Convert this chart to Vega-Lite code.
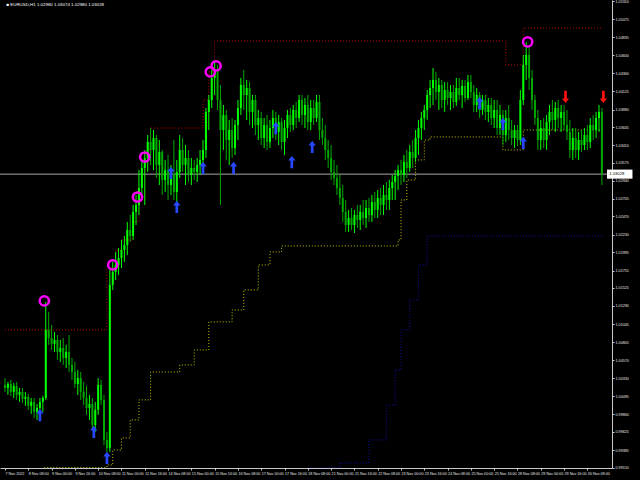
{
  "$schema": "https://vega.github.io/schema/vega-lite/v6.json",
  "width": 612,
  "height": 468,
  "autosize": "none",
  "padding": {"left": 0, "top": 0, "right": 28, "bottom": 12},
  "background": "black",
  "config": {
    "view": {"stroke": null},
    "font": "Liberation Sans",
    "axis": {"grid": false, "domainColor": "#C8C8C8", "tickColor": "#C8C8C8", "labelColor": "#E8E8E8", "labelFont": "Liberation Sans", "labelFontSize": 3.7, "tickSize": 2, "labelPadding": 1, "labelOverlap": false, "labelFlush": false, "tickCount": 100}
  },
  "datasets": {
    "candles": [
      {"i":0,"o":1.00245,"h":1.00337,"l":1.00153,"c":1.00205},
      {"i":2,"o":1.00205,"h":1.00285,"l":1.00113,"c":1.00258},
      {"i":4,"o":1.00258,"h":1.00311,"l":1.001,"c":1.00153},
      {"i":6,"o":1.00153,"h":1.00271,"l":1.00073,"c":1.00232},
      {"i":8,"o":1.00232,"h":1.00285,"l":1.00047,"c":1.00113},
      {"i":10,"o":1.00113,"h":1.00205,"l":1.00021,"c":1.00153},
      {"i":12,"o":1.00153,"h":1.00205,"l":1.00007,"c":1.0006},
      {"i":14,"o":1.0006,"h":1.00153,"l":0.99968,"c":1.00087},
      {"i":16,"o":1.00087,"h":1.00126,"l":0.99915,"c":0.99968},
      {"i":18,"o":0.99968,"h":1.00073,"l":0.99862,"c":1.00021},
      {"i":20,"o":1.00021,"h":1.00073,"l":0.99809,"c":0.99889},
      {"i":22,"o":0.99889,"h":0.99994,"l":0.99783,"c":0.99941},
      {"i":24,"o":0.99941,"h":1.00073,"l":0.99783,"c":1.00021},
      {"i":26,"o":1.00021,"h":1.001,"l":0.99889,"c":1.00073},
      {"i":28,"o":1.00073,"h":1.01341,"l":1.00047,"c":1.00971},
      {"i":30,"o":1.00971,"h":1.01209,"l":1.00773,"c":1.00865},
      {"i":32,"o":1.00865,"h":1.01037,"l":1.00707,"c":1.00786},
      {"i":34,"o":1.00786,"h":1.00945,"l":1.00681,"c":1.00839},
      {"i":36,"o":1.00839,"h":1.00905,"l":1.00575,"c":1.00681},
      {"i":38,"o":1.00681,"h":1.00839,"l":1.00549,"c":1.00733},
      {"i":40,"o":1.00733,"h":1.00865,"l":1.00509,"c":1.00601},
      {"i":42,"o":1.00601,"h":1.00773,"l":1.00469,"c":1.00681},
      {"i":44,"o":1.00681,"h":1.00905,"l":1.00417,"c":1.00509},
      {"i":46,"o":1.00509,"h":1.00601,"l":1.00311,"c":1.00417},
      {"i":48,"o":1.00417,"h":1.00549,"l":1.00205,"c":1.00258},
      {"i":50,"o":1.00258,"h":1.00443,"l":1.00113,"c":1.00337},
      {"i":52,"o":1.00337,"h":1.00417,"l":1.00047,"c":1.00153},
      {"i":54,"o":1.00153,"h":1.00285,"l":0.99981,"c":1.00073},
      {"i":56,"o":1.00073,"h":1.00232,"l":0.99849,"c":0.99941},
      {"i":58,"o":0.99941,"h":1.00113,"l":0.99783,"c":0.99994},
      {"i":60,"o":0.99994,"h":1.00073,"l":0.99651,"c":0.99717},
      {"i":62,"o":0.99717,"h":1.00021,"l":0.99625,"c":0.99915},
      {"i":64,"o":0.99915,"h":1.00337,"l":0.99849,"c":1.00245},
      {"i":66,"o":1.00245,"h":1.00311,"l":0.99981,"c":1.00047},
      {"i":68,"o":1.00047,"h":1.00113,"l":0.99453,"c":0.99519},
      {"i":70,"o":0.99519,"h":0.99625,"l":0.99321,"c":0.99413},
      {"i":72,"o":0.99413,"h":1.01763,"l":0.99361,"c":1.01565},
      {"i":74,"o":1.01565,"h":1.01869,"l":1.01499,"c":1.01737},
      {"i":76,"o":1.01737,"h":1.02001,"l":1.01631,"c":1.01829},
      {"i":78,"o":1.01829,"h":1.02053,"l":1.01697,"c":1.01921},
      {"i":80,"o":1.01921,"h":1.02159,"l":1.01789,"c":1.02027},
      {"i":82,"o":1.02027,"h":1.02212,"l":1.01869,"c":1.02093},
      {"i":84,"o":1.02093,"h":1.02397,"l":1.01961,"c":1.02291},
      {"i":86,"o":1.02291,"h":1.02489,"l":1.02133,"c":1.02212},
      {"i":88,"o":1.02212,"h":1.02621,"l":1.02159,"c":1.02529},
      {"i":90,"o":1.02529,"h":1.02753,"l":1.02357,"c":1.02621},
      {"i":92,"o":1.02621,"h":1.03083,"l":1.02489,"c":1.02845},
      {"i":94,"o":1.02845,"h":1.03215,"l":1.02687,"c":1.03109},
      {"i":96,"o":1.03109,"h":1.03347,"l":1.02621,"c":1.03241},
      {"i":98,"o":1.03241,"h":1.03545,"l":1.03057,"c":1.03453},
      {"i":100,"o":1.03453,"h":1.03637,"l":1.03149,"c":1.03347},
      {"i":102,"o":1.03347,"h":1.03611,"l":1.03083,"c":1.03505},
      {"i":104,"o":1.03505,"h":1.03545,"l":1.02977,"c":1.03149},
      {"i":106,"o":1.03149,"h":1.03479,"l":1.02885,"c":1.03321},
      {"i":108,"o":1.03321,"h":1.03347,"l":1.02753,"c":1.02951},
      {"i":110,"o":1.02951,"h":1.03215,"l":1.02793,"c":1.03083},
      {"i":112,"o":1.03083,"h":1.03281,"l":1.02687,"c":1.02885},
      {"i":114,"o":1.02885,"h":1.03149,"l":1.02753,"c":1.03017},
      {"i":116,"o":1.03017,"h":1.03479,"l":1.02687,"c":1.02793},
      {"i":118,"o":1.02793,"h":1.03215,"l":1.02621,"c":1.03057},
      {"i":120,"o":1.03057,"h":1.03545,"l":1.02977,"c":1.03347},
      {"i":122,"o":1.03347,"h":1.03505,"l":1.03057,"c":1.03149},
      {"i":124,"o":1.03149,"h":1.03413,"l":1.02885,"c":1.03241},
      {"i":126,"o":1.03241,"h":1.03347,"l":1.02925,"c":1.03017},
      {"i":128,"o":1.03017,"h":1.03241,"l":1.02885,"c":1.03109},
      {"i":130,"o":1.03109,"h":1.03215,"l":1.02951,"c":1.03057},
      {"i":132,"o":1.03057,"h":1.03241,"l":1.02925,"c":1.03149},
      {"i":134,"o":1.03149,"h":1.03347,"l":1.03017,"c":1.03215},
      {"i":136,"o":1.03215,"h":1.03479,"l":1.03057,"c":1.03347},
      {"i":138,"o":1.03347,"h":1.03901,"l":1.03241,"c":1.03849},
      {"i":140,"o":1.03849,"h":1.04073,"l":1.03611,"c":1.04007},
      {"i":142,"o":1.04007,"h":1.04403,"l":1.03901,"c":1.04297},
      {"i":144,"o":1.04297,"h":1.04509,"l":1.04073,"c":1.04403},
      {"i":146,"o":1.04403,"h":1.04469,"l":1.03875,"c":1.04007},
      {"i":148,"o":1.04007,"h":1.04205,"l":1.02621,"c":1.03611},
      {"i":150,"o":1.03611,"h":1.03941,"l":1.03347,"c":1.03809},
      {"i":152,"o":1.03809,"h":1.03875,"l":1.03215,"c":1.03479},
      {"i":154,"o":1.03479,"h":1.03743,"l":1.03149,"c":1.03611},
      {"i":156,"o":1.03611,"h":1.03769,"l":1.03241,"c":1.03373},
      {"i":158,"o":1.03373,"h":1.03743,"l":1.03281,"c":1.03677},
      {"i":160,"o":1.03677,"h":1.04007,"l":1.03479,"c":1.03901},
      {"i":162,"o":1.03901,"h":1.04297,"l":1.03809,"c":1.04205},
      {"i":164,"o":1.04205,"h":1.04403,"l":1.03875,"c":1.04073},
      {"i":166,"o":1.04073,"h":1.04271,"l":1.03743,"c":1.04165},
      {"i":168,"o":1.04165,"h":1.04245,"l":1.03677,"c":1.03849},
      {"i":170,"o":1.03849,"h":1.04073,"l":1.03637,"c":1.04007},
      {"i":172,"o":1.04007,"h":1.04073,"l":1.03545,"c":1.03677},
      {"i":174,"o":1.03677,"h":1.03875,"l":1.03479,"c":1.03769},
      {"i":176,"o":1.03769,"h":1.03849,"l":1.03413,"c":1.03505},
      {"i":178,"o":1.03505,"h":1.03769,"l":1.03373,"c":1.03677},
      {"i":180,"o":1.03677,"h":1.03809,"l":1.03347,"c":1.03453},
      {"i":182,"o":1.03453,"h":1.03743,"l":1.03373,"c":1.03637},
      {"i":184,"o":1.03637,"h":1.03875,"l":1.03505,"c":1.03769},
      {"i":186,"o":1.03769,"h":1.03849,"l":1.03479,"c":1.03585},
      {"i":188,"o":1.03585,"h":1.03809,"l":1.03413,"c":1.03717},
      {"i":190,"o":1.03717,"h":1.03769,"l":1.03347,"c":1.03453},
      {"i":192,"o":1.03453,"h":1.03743,"l":1.03281,"c":1.03637},
      {"i":194,"o":1.03637,"h":1.03875,"l":1.03505,"c":1.03809},
      {"i":196,"o":1.03809,"h":1.03901,"l":1.03585,"c":1.03677},
      {"i":198,"o":1.03677,"h":1.03941,"l":1.03611,"c":1.03875},
      {"i":200,"o":1.03875,"h":1.03981,"l":1.03637,"c":1.03769},
      {"i":202,"o":1.03769,"h":1.04073,"l":1.03717,"c":1.04007},
      {"i":204,"o":1.04007,"h":1.04073,"l":1.03677,"c":1.03809},
      {"i":206,"o":1.03809,"h":1.04033,"l":1.03637,"c":1.03941},
      {"i":208,"o":1.03941,"h":1.04073,"l":1.03611,"c":1.03717},
      {"i":210,"o":1.03717,"h":1.04007,"l":1.03611,"c":1.03901},
      {"i":212,"o":1.03901,"h":1.04007,"l":1.03677,"c":1.03769},
      {"i":214,"o":1.03769,"h":1.04073,"l":1.03717,"c":1.03981},
      {"i":216,"o":1.03981,"h":1.04073,"l":1.03479,"c":1.03611},
      {"i":218,"o":1.03611,"h":1.03769,"l":1.03413,"c":1.03505},
      {"i":220,"o":1.03505,"h":1.03677,"l":1.03215,"c":1.03347},
      {"i":222,"o":1.03347,"h":1.03479,"l":1.03109,"c":1.03241},
      {"i":224,"o":1.03241,"h":1.03413,"l":1.02951,"c":1.03057},
      {"i":226,"o":1.03057,"h":1.03215,"l":1.02885,"c":1.02977},
      {"i":228,"o":1.02977,"h":1.03149,"l":1.02753,"c":1.02845},
      {"i":230,"o":1.02845,"h":1.03017,"l":1.02621,"c":1.02713},
      {"i":232,"o":1.02713,"h":1.02885,"l":1.02397,"c":1.02529},
      {"i":234,"o":1.02529,"h":1.02687,"l":1.02265,"c":1.02357},
      {"i":236,"o":1.02357,"h":1.02555,"l":1.02265,"c":1.02449},
      {"i":238,"o":1.02449,"h":1.02581,"l":1.02291,"c":1.02357},
      {"i":240,"o":1.02357,"h":1.02555,"l":1.02251,"c":1.02489},
      {"i":242,"o":1.02489,"h":1.02621,"l":1.02317,"c":1.02423},
      {"i":244,"o":1.02423,"h":1.02621,"l":1.02291,"c":1.02529},
      {"i":246,"o":1.02529,"h":1.02687,"l":1.02357,"c":1.02449},
      {"i":248,"o":1.02449,"h":1.02687,"l":1.02317,"c":1.02581},
      {"i":250,"o":1.02581,"h":1.02713,"l":1.02397,"c":1.02489},
      {"i":252,"o":1.02489,"h":1.02753,"l":1.02397,"c":1.02661},
      {"i":254,"o":1.02661,"h":1.02793,"l":1.02449,"c":1.02555},
      {"i":256,"o":1.02555,"h":1.02819,"l":1.02449,"c":1.02713},
      {"i":258,"o":1.02713,"h":1.02845,"l":1.02489,"c":1.02621},
      {"i":260,"o":1.02621,"h":1.02885,"l":1.02489,"c":1.02753},
      {"i":262,"o":1.02753,"h":1.02925,"l":1.02555,"c":1.02687},
      {"i":264,"o":1.02687,"h":1.02951,"l":1.02555,"c":1.02845},
      {"i":266,"o":1.02845,"h":1.03017,"l":1.02687,"c":1.02925},
      {"i":268,"o":1.02925,"h":1.03083,"l":1.02687,"c":1.03004},
      {"i":270,"o":1.03004,"h":1.03149,"l":1.02819,"c":1.03083},
      {"i":272,"o":1.03083,"h":1.03215,"l":1.02885,"c":1.03017},
      {"i":274,"o":1.03017,"h":1.03281,"l":1.02925,"c":1.03189},
      {"i":276,"o":1.03189,"h":1.03347,"l":1.02977,"c":1.03109},
      {"i":278,"o":1.03109,"h":1.03413,"l":1.03057,"c":1.03321},
      {"i":280,"o":1.03321,"h":1.03479,"l":1.03109,"c":1.03241},
      {"i":282,"o":1.03241,"h":1.03611,"l":1.03189,"c":1.03505},
      {"i":284,"o":1.03505,"h":1.03743,"l":1.03281,"c":1.03637},
      {"i":286,"o":1.03637,"h":1.03849,"l":1.03479,"c":1.03769},
      {"i":288,"o":1.03769,"h":1.03941,"l":1.03611,"c":1.03875},
      {"i":290,"o":1.03875,"h":1.04139,"l":1.03743,"c":1.04073},
      {"i":292,"o":1.04073,"h":1.04271,"l":1.03901,"c":1.04165},
      {"i":294,"o":1.04165,"h":1.04429,"l":1.03941,"c":1.04271},
      {"i":296,"o":1.04271,"h":1.04377,"l":1.04007,"c":1.04113},
      {"i":298,"o":1.04113,"h":1.04297,"l":1.03875,"c":1.04205},
      {"i":300,"o":1.04205,"h":1.04271,"l":1.03901,"c":1.04007},
      {"i":302,"o":1.04007,"h":1.04245,"l":1.03849,"c":1.04139},
      {"i":304,"o":1.04139,"h":1.04245,"l":1.03941,"c":1.04033},
      {"i":306,"o":1.04033,"h":1.04205,"l":1.03875,"c":1.04113},
      {"i":308,"o":1.04113,"h":1.04205,"l":1.03901,"c":1.03981},
      {"i":310,"o":1.03981,"h":1.04297,"l":1.03928,"c":1.04165},
      {"i":312,"o":1.04165,"h":1.04297,"l":1.04007,"c":1.04073},
      {"i":314,"o":1.04073,"h":1.04271,"l":1.03901,"c":1.04192},
      {"i":316,"o":1.04192,"h":1.04271,"l":1.03981,"c":1.04033},
      {"i":318,"o":1.04033,"h":1.04337,"l":1.04007,"c":1.04245},
      {"i":320,"o":1.04245,"h":1.04337,"l":1.04033,"c":1.04113},
      {"i":322,"o":1.04113,"h":1.04205,"l":1.03849,"c":1.03941},
      {"i":324,"o":1.03941,"h":1.04165,"l":1.03849,"c":1.04073},
      {"i":326,"o":1.04073,"h":1.04113,"l":1.03769,"c":1.03875},
      {"i":328,"o":1.03875,"h":1.04073,"l":1.03809,"c":1.04007},
      {"i":330,"o":1.04007,"h":1.04073,"l":1.03743,"c":1.03849},
      {"i":332,"o":1.03849,"h":1.04033,"l":1.03717,"c":1.03941},
      {"i":334,"o":1.03941,"h":1.04033,"l":1.03677,"c":1.03769},
      {"i":336,"o":1.03769,"h":1.04007,"l":1.03637,"c":1.03875},
      {"i":338,"o":1.03875,"h":1.04007,"l":1.03545,"c":1.03637},
      {"i":340,"o":1.03637,"h":1.03941,"l":1.03545,"c":1.03809},
      {"i":342,"o":1.03809,"h":1.03875,"l":1.03413,"c":1.03545},
      {"i":344,"o":1.03545,"h":1.03875,"l":1.03453,"c":1.03769},
      {"i":346,"o":1.03769,"h":1.03941,"l":1.03479,"c":1.03611},
      {"i":348,"o":1.03611,"h":1.03743,"l":1.03413,"c":1.03505},
      {"i":350,"o":1.03505,"h":1.03677,"l":1.03373,"c":1.03611},
      {"i":352,"o":1.03611,"h":1.03677,"l":1.034,"c":1.03479},
      {"i":354,"o":1.03479,"h":1.04139,"l":1.03413,"c":1.04007},
      {"i":356,"o":1.04007,"h":1.04601,"l":1.03941,"c":1.04469},
      {"i":358,"o":1.04469,"h":1.04773,"l":1.04271,"c":1.04601},
      {"i":360,"o":1.04601,"h":1.04733,"l":1.04139,"c":1.04297},
      {"i":362,"o":1.04297,"h":1.04403,"l":1.03875,"c":1.04007},
      {"i":364,"o":1.04007,"h":1.04073,"l":1.03677,"c":1.03769},
      {"i":366,"o":1.03769,"h":1.03875,"l":1.03347,"c":1.03479},
      {"i":368,"o":1.03479,"h":1.03743,"l":1.03347,"c":1.03637},
      {"i":370,"o":1.03637,"h":1.03769,"l":1.03373,"c":1.03479},
      {"i":372,"o":1.03479,"h":1.03809,"l":1.03347,"c":1.03717},
      {"i":374,"o":1.03717,"h":1.03941,"l":1.03545,"c":1.03849},
      {"i":376,"o":1.03849,"h":1.04007,"l":1.03611,"c":1.03743},
      {"i":378,"o":1.03743,"h":1.03981,"l":1.03585,"c":1.03901},
      {"i":380,"o":1.03901,"h":1.04007,"l":1.03637,"c":1.03769},
      {"i":382,"o":1.03769,"h":1.03941,"l":1.03585,"c":1.03849},
      {"i":384,"o":1.03849,"h":1.03941,"l":1.03611,"c":1.03677},
      {"i":386,"o":1.03677,"h":1.03875,"l":1.03479,"c":1.03585},
      {"i":388,"o":1.03585,"h":1.03743,"l":1.03241,"c":1.03347},
      {"i":390,"o":1.03347,"h":1.03637,"l":1.03215,"c":1.03505},
      {"i":392,"o":1.03505,"h":1.03637,"l":1.03241,"c":1.03347},
      {"i":394,"o":1.03347,"h":1.03585,"l":1.03215,"c":1.03479},
      {"i":396,"o":1.03479,"h":1.03611,"l":1.03321,"c":1.03413},
      {"i":398,"o":1.03413,"h":1.03637,"l":1.03347,"c":1.03545},
      {"i":400,"o":1.03545,"h":1.03677,"l":1.03347,"c":1.03453},
      {"i":402,"o":1.03453,"h":1.03769,"l":1.03373,"c":1.03677},
      {"i":404,"o":1.03677,"h":1.03809,"l":1.03479,"c":1.03611},
      {"i":406,"o":1.03611,"h":1.03849,"l":1.03505,"c":1.03769},
      {"i":408,"o":1.03769,"h":1.03941,"l":1.03585,"c":1.03849},
      {"i":410,"o":1.03849,"h":1.03901,"l":1.02885,"c":1.03028}
    ],
    "levels": [
      {"s":"red","i":0,"v":1.00971},{"s":"red","i":70,"v":1.01789},{"s":"red","i":76,"v":1.02027},{"s":"red","i":80,"v":1.02159},
      {"s":"red","i":88,"v":1.02397},{"s":"red","i":92,"v":1.02687},{"s":"red","i":96,"v":1.03083},{"s":"red","i":98,"v":1.03347},
      {"s":"red","i":100,"v":1.03637},{"s":"red","i":136,"v":1.04007},{"s":"red","i":140,"v":1.04377},{"s":"red","i":144,"v":1.04786},
      {"s":"red","i":344,"v":1.04469},{"s":"red","i":356,"v":1.04957},{"s":"red","i":411,"v":1.04957},
      {"s":"yellow","i":27,"v":0.99155},{"s":"yellow","i":70,"v":0.99189},{"s":"yellow","i":74,"v":0.99387},{"s":"yellow","i":80,"v":0.99545},
      {"s":"yellow","i":86,"v":0.99783},{"s":"yellow","i":92,"v":1.00047},{"s":"yellow","i":100,"v":1.00416},{"s":"yellow","i":120,"v":1.00509},
      {"s":"yellow","i":130,"v":1.00707},{"s":"yellow","i":140,"v":1.01077},{"s":"yellow","i":156,"v":1.01235},{"s":"yellow","i":164,"v":1.01499},
      {"s":"yellow","i":174,"v":1.01829},{"s":"yellow","i":182,"v":1.02001},{"s":"yellow","i":190,"v":1.0208},{"s":"yellow","i":270,"v":1.02159},
      {"s":"yellow","i":272,"v":1.02687},{"s":"yellow","i":276,"v":1.02951},{"s":"yellow","i":282,"v":1.03215},{"s":"yellow","i":288,"v":1.03479},
      {"s":"yellow","i":292,"v":1.03519},{"s":"yellow","i":342,"v":1.03347},{"s":"yellow","i":356,"v":1.03611},{"s":"yellow","i":411,"v":1.03611},
      {"s":"blue","i":210,"v":0.9915},{"s":"blue","i":230,"v":0.99215},{"s":"blue","i":250,"v":0.99519},{"s":"blue","i":262,"v":0.99977},
      {"s":"blue","i":268,"v":1.00443},{"s":"blue","i":272,"v":1.00971},{"s":"blue","i":278,"v":1.01367},{"s":"blue","i":284,"v":1.01829},
      {"s":"blue","i":290,"v":1.02212},{"s":"blue","i":411,"v":1.02212}
    ],
    "signals": [
      {"k":"buy","i":24,"v":0.99847},{"k":"buy","i":61,"v":0.99624},{"k":"buy","i":70,"v":0.99281},{"k":"buy","i":114,"v":1.03043},
      {"k":"buy","i":118,"v":1.02594},{"k":"buy","i":136,"v":1.03109},{"k":"buy","i":157,"v":1.03109},{"k":"buy","i":186,"v":1.03637},
      {"k":"buy","i":197,"v":1.03188},{"k":"buy","i":211,"v":1.03387},{"k":"buy","i":326,"v":1.03967},{"k":"buy","i":342,"v":1.0369},
      {"k":"buy","i":356,"v":1.03439},
      {"k":"sell","i":385,"v":1.04047},{"k":"sell","i":411,"v":1.04047},
      {"k":"mark","i":27,"v":1.01354},{"k":"mark","i":74,"v":1.01829},{"k":"mark","i":91,"v":1.02726},{"k":"mark","i":96,"v":1.03254},
      {"k":"mark","i":141,"v":1.04377},{"k":"mark","i":145,"v":1.04456},{"k":"mark","i":359,"v":1.04773}
    ]
  },
  "layer": [
    {
      "data": {"name": "levels"},
      "mark": {"type": "line", "interpolate": "step-after", "strokeDash": [1, 2], "strokeWidth": 1, "clip": true},
      "encoding": {
        "x": {"field": "i", "type": "quantitative", "title": null, "scale": {"domain": [0, 413.5], "nice": false, "zero": false},
          "axis": {"values": [0,16,32,48,64,80,96,112,128,144,160,176,192,208,224,240,256,272,288,304,320,336,352,368,384,400],
            "tickCount": 100, "labelAlign": "left", "labelFlush": false, "labelOverlap": false,
            "labelExpr": "['7 Nov 2022','8 Nov 08:00','9 Nov 00:00','9 Nov 16:00','10 Nov 08:00','11 Nov 00:00','11 Nov 16:00','14 Nov 08:00','15 Nov 00:00','15 Nov 16:00','16 Nov 08:00','17 Nov 00:00','17 Nov 16:00','18 Nov 08:00','21 Nov 00:00','21 Nov 16:00','22 Nov 08:00','23 Nov 00:00','23 Nov 16:00','24 Nov 08:00','25 Nov 00:00','25 Nov 16:00','28 Nov 08:00','29 Nov 00:00','29 Nov 16:00','30 Nov 08:00'][round(datum.value/16)]"}},
        "y": {"field": "v", "type": "quantitative", "title": null, "scale": {"domain": [0.99148, 1.05327], "nice": false, "zero": false},
          "axis": {"orient": "right", "tickCount": 100, "values": [0.9915,0.99385,0.99625,0.9986,1.00095,1.0033,1.0057,1.00805,1.01045,1.0129,1.01525,1.01755,1.01995,1.0223,1.0247,1.02705,1.0294,1.03175,1.0341,1.03645,1.0388,1.04125,1.0436,1.046,1.04835,1.05075,1.0531],
            "format": ".5f", "labelOverlap": false, "labelFlush": false}},
        "color": {"field": "s", "type": "nominal", "legend": null, "scale": {"domain": ["red", "yellow", "blue"], "range": ["#C00000", "#C8C800", "#1010B0"]}},
        "detail": {"field": "s"}
      }
    },
    {
      "data": {"values": [{}]},
      "mark": {"type": "rule", "color": "#A8A8A8", "strokeWidth": 1},
      "encoding": {"y": {"datum": 1.03028, "type": "quantitative", "title": null, "axis": {"orient": "right"}}}
    },
    {
      "data": {"name": "candles"},
      "mark": {"type": "rule", "strokeWidth": 1},
      "encoding": {
        "x": {"field": "i", "type": "quantitative", "title": null},
        "y": {"field": "l", "type": "quantitative", "title": null, "axis": {"orient": "right"}},
        "y2": {"field": "h"},
        "color": {"condition": {"test": "datum.c >= datum.o", "value": "#00FF00"}, "value": "#00A800"}
      }
    },
    {
      "data": {"name": "candles"},
      "mark": {"type": "bar", "size": 2},
      "encoding": {
        "x": {"field": "i", "type": "quantitative", "title": null},
        "y": {"field": "o", "type": "quantitative", "title": null, "axis": {"orient": "right"}},
        "y2": {"field": "c"},
        "color": {"condition": {"test": "datum.c >= datum.o", "value": "#00FF00"}, "value": "#00A800"}
      }
    },
    {
      "data": {"name": "signals"},
      "transform": [{"filter": "datum.k == 'buy'"}],
      "mark": {"type": "point", "shape": "M0,-1L0.6,-0.25L0.22,-0.25L0.22,1L-0.22,1L-0.22,-0.25L-0.6,-0.25Z", "filled": true, "size": 150, "color": "#2848FF", "opacity": 1},
      "encoding": {
        "x": {"field": "i", "type": "quantitative", "title": null},
        "y": {"field": "v", "type": "quantitative", "title": null, "axis": {"orient": "right"}}
      }
    },
    {
      "data": {"name": "signals"},
      "transform": [{"filter": "datum.k == 'sell'"}],
      "mark": {"type": "point", "shape": "M0,1L0.6,0.25L0.22,0.25L0.22,-1L-0.22,-1L-0.22,0.25L-0.6,0.25Z", "filled": true, "size": 150, "color": "#FF1010", "opacity": 1},
      "encoding": {
        "x": {"field": "i", "type": "quantitative", "title": null},
        "y": {"field": "v", "type": "quantitative", "title": null, "axis": {"orient": "right"}}
      }
    },
    {
      "data": {"name": "signals"},
      "transform": [{"filter": "datum.k == 'mark'"}],
      "mark": {"type": "point", "shape": "circle", "filled": false, "size": 85, "strokeWidth": 2.5, "color": "#FF00FF", "opacity": 1},
      "encoding": {
        "x": {"field": "i", "type": "quantitative", "title": null},
        "y": {"field": "v", "type": "quantitative", "title": null, "axis": {"orient": "right"}}
      }
    },
    {
      "data": {"values": [{}]},
      "mark": {"type": "rect", "color": "white", "clip": false},
      "encoding": {
        "x": {"datum": 413.5, "type": "quantitative", "title": null},
        "x2": {"datum": 431},
        "y": {"datum": 1.03088, "type": "quantitative", "title": null, "axis": {"orient": "right"}},
        "y2": {"datum": 1.02968}
      }
    },
    {
      "data": {"values": [{}]},
      "mark": {"type": "text", "color": "black", "font": "Liberation Sans", "fontSize": 4.2, "align": "left", "baseline": "middle", "clip": false},
      "encoding": {
        "x": {"datum": 415, "type": "quantitative", "title": null},
        "y": {"datum": 1.03028, "type": "quantitative", "title": null, "axis": {"orient": "right"}},
        "text": {"value": "1.03028"}
      }
    },
    {
      "data": {"values": [{}]},
      "mark": {"type": "text", "color": "white", "font": "Liberation Sans", "fontSize": 4.4, "align": "left", "baseline": "middle"},
      "encoding": {
        "x": {"datum": 1, "type": "quantitative", "title": null},
        "y": {"datum": 1.05262, "type": "quantitative", "title": null, "axis": {"orient": "right"}},
        "text": {"value": "■ EURUSD,H1  1.02980 1.03074 1.02980 1.03028"}
      }
    }
  ]
}
